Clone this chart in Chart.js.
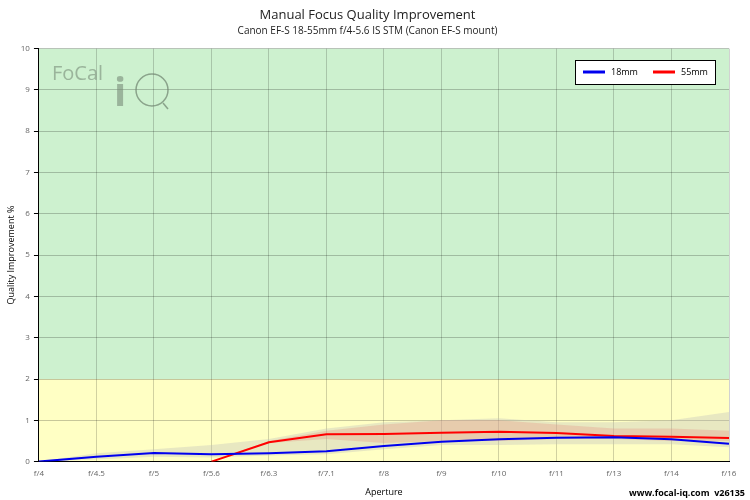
<!DOCTYPE html>
<html><head><meta charset="utf-8">
<script src="https://cdn.jsdelivr.net/npm/chart.js@4"></script>
<style>body{margin:0;background:#fff}#wrap{width:750px;height:500px;position:relative}</style>
</head><body><div id="wrap"><canvas id="c"></canvas></div>
<script>
const apertures = ['f/4','f/4.5','f/5','f/5.6','f/6.3','f/7.1','f/8','f/9','f/10','f/11','f/13','f/14','f/16'];
const q18 = [0,0.12,0.21,0.18,0.2,0.25,0.38,0.48,0.54,0.58,0.59,0.54,0.43];
const q18Hi = [0,0.2,0.3,0.4,0.55,0.8,0.95,1.0,1.05,0.95,0.95,1.0,1.2];
const q18Lo = [0,0.05,0.12,0.1,0.15,0.18,0.3,0.4,0.4,0.42,0.42,0.42,0.35];
const q55 = [null,null,null,0,0.47,0.66,0.67,0.7,0.72,0.69,0.62,0.6,0.57];
const q55Hi = [null,null,null,0,0.5,0.75,0.9,1.0,1.0,0.9,0.8,0.8,0.75];
const q55Lo = [null,null,null,0,0.45,0.55,0.45,0.5,0.5,0.55,0.55,0.5,0.5];
const legendNames = ['18mm','55mm'];
const colors = ['#0000ee','#ff0000'];

const font = "'Open Sans', sans-serif";
const zones = {
  id: 'zones',
  beforeDraw(chart) {
    const {ctx, chartArea: a, scales: {y}} = chart;
    ctx.save();
    ctx.fillStyle = '#cdf1cf';
    ctx.fillRect(a.left, y.getPixelForValue(10), a.width, y.getPixelForValue(2) - y.getPixelForValue(10));
    ctx.fillStyle = '#ffffc4';
    ctx.fillRect(a.left, y.getPixelForValue(2), a.width, y.getPixelForValue(0) - y.getPixelForValue(2));
    ctx.restore();
  },
  afterDraw(chart) {
    const {ctx, chartArea: a} = chart;
    ctx.save();
    // logo
    ctx.fillStyle = 'rgba(120,140,120,0.6)';
    ctx.font = "20px " + font;
    ctx.fillText('FoCal', 52, 80);
    ctx.font = "bold 40px " + font;
    ctx.fillText('i', 114, 106);
    ctx.strokeStyle = 'rgba(110,130,110,0.7)';
    ctx.lineWidth = 1.5;
    ctx.beginPath(); ctx.arc(152, 90, 16, 0, Math.PI * 2); ctx.stroke();
    ctx.beginPath(); ctx.moveTo(163, 103); ctx.lineTo(168, 109); ctx.stroke();
    // legend
    const lx = a.right - 154, ly = 60;
    ctx.fillStyle = '#fff';
    ctx.fillRect(lx, ly, 140, 24);
    ctx.strokeStyle = '#000'; ctx.lineWidth = 1;
    ctx.strokeRect(lx + 0.5, ly + 0.5, 140, 24);
    ctx.font = "9px " + font; ctx.textBaseline = 'middle';
    legendNames.forEach((n, i) => {
      const x = lx + 8 + i * 70;
      ctx.strokeStyle = colors[i]; ctx.lineWidth = 3;
      ctx.beginPath(); ctx.moveTo(x, ly + 12); ctx.lineTo(x + 22, ly + 12); ctx.stroke();
      ctx.fillStyle = '#000'; ctx.fillText(n, x + 28, ly + 12);
    });
    ctx.font = "bold 9px " + font; ctx.textAlign = 'right';
    ctx.fillText('www.focal-iq.com  v26135', 745, 493);
    ctx.restore();
  }
};

new Chart(document.getElementById('c'), {
  type: 'line',
  data: {
    labels: apertures,
    datasets: [
      {data: q18Lo, order: 2, borderWidth: 0, pointRadius: 0, fill: false},
      {data: q18Hi, order: 2, borderWidth: 0, pointRadius: 0, fill: '-1', backgroundColor: 'rgba(190,190,190,0.35)'},
      {data: q55Lo, order: 1, borderWidth: 0, pointRadius: 0, fill: false},
      {data: q55Hi, order: 1, borderWidth: 0, pointRadius: 0, fill: '-1', backgroundColor: 'rgba(230,140,130,0.3)'},
      {data: q18, order: 0, borderColor: colors[0], borderWidth: 2, pointRadius: 0, fill: false},
      {data: q55, order: 0, borderColor: colors[1], borderWidth: 2, pointRadius: 0, fill: false}
    ]
  },
  options: {
    responsive: true, maintainAspectRatio: false, animation: false,
    layout: {padding: {left: 6, right: 21, top: 0, bottom: 0}},
    plugins: {
      legend: {display: false}, tooltip: {enabled: false},
      title: {display: true, text: 'Manual Focus Quality Improvement', color: '#222', font: {family: font, size: 13, weight: 'normal'}, padding: {top: 7, bottom: 3}},
      subtitle: {display: true, text: 'Canon EF-S 18-55mm f/4-5.6 IS STM (Canon EF-S mount)', color: '#222', font: {family: font, size: 10}, padding: {bottom: 11}}
    },
    scales: {
      x: {offset: false, grid: {color: 'rgba(0,0,0,0.18)', tickLength: 0}, border: {color: '#000'},
        ticks: {color: '#666', font: {family: font, size: 8}, padding: 7, maxRotation: 0, autoSkip: false},
        title: {display: true, text: 'Aperture', color: '#000', font: {family: font, size: 9}, padding: {top: 2, bottom: 2}}},
      y: {min: 0, max: 10, grid: {color: 'rgba(0,0,0,0.22)', tickLength: 5, tickColor: '#000'}, border: {color: '#000'},
        ticks: {stepSize: 1, color: '#666', font: {family: font, size: 8}, padding: 4},
        title: {display: true, text: 'Quality Improvement %', color: '#000', font: {family: font, size: 9}, padding: 0}}
    }
  },
  plugins: [zones]
});
</script></body></html>
